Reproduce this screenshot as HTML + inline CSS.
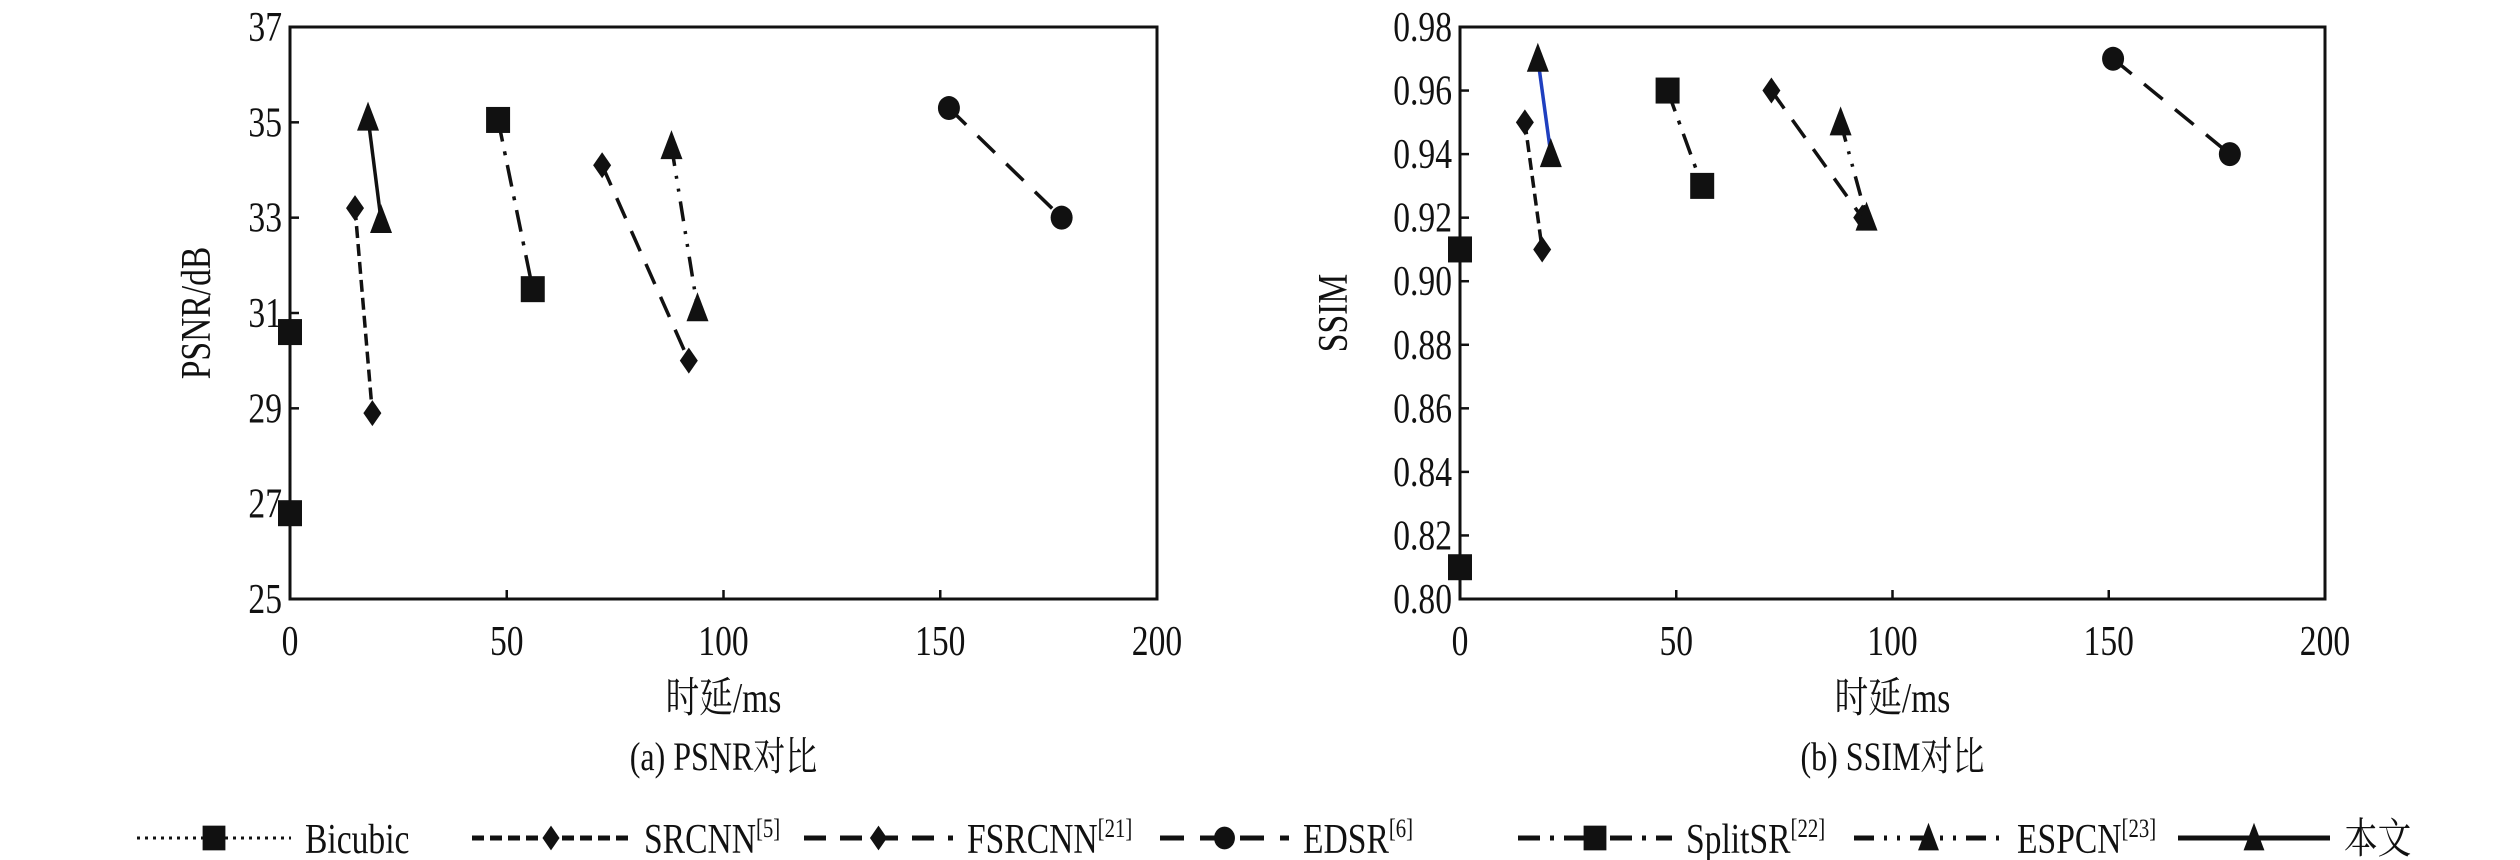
<!DOCTYPE html>
<html><head><meta charset="utf-8"><style>
body{margin:0;background:#fff}
svg{display:block}
text{font-family:"Liberation Serif","Noto Serif CJK SC","Noto Sans CJK SC",serif;fill:#111}
</style></head><body>
<svg id="svg" width="2520" height="860" viewBox="0 0 2520 860" xmlns="http://www.w3.org/2000/svg"></svg>
<script>
const seriesNames=["Bicubic","SRCNN","FSRCNN","EDSR","SplitSR","ESPCN","本文"];
const seriesX=[[0,0],[15,19],[72,92],[152,178],[48,56],[88,94],[18,21]];
const psnrY=[[30.6,26.8],[33.2,28.9],[34.1,30.0],[35.3,33.0],[35.05,31.5],[34.5,31.1],[35.1,32.95]];
const ssimX=[[0,0],[15,19],[72,93],[151,178],[48,56],[88,94],[18,21]];
const ssimY=[[0.91,0.81],[0.95,0.91],[0.96,0.92],[0.97,0.94],[0.96,0.93],[0.95,0.92],[0.97,0.94]];
const xTicks=[0,50,100,150,200];
const psnrTicks=[25,27,29,31,33,35,37];
const ssimTicks=[0.80,0.82,0.84,0.86,0.88,0.90,0.92,0.94,0.96,0.98];
const legendSup=["","[5]","[21]","[6]","[22]","[23]",""];
const markers=["square","diamond","diamond","circle","square","triangle","triangle"];
const dashes=["3,5","12,6","22,14","24,16","22,10,4,10","20,10,3,10,3,10",""];

const NS="http://www.w3.org/2000/svg";
const svg=document.getElementById('svg');
function el(tag,attrs,parent){const e=document.createElementNS(NS,tag);for(const k in attrs)e.setAttribute(k,attrs[k]);(parent||svg).appendChild(e);return e;}
function txt(x,y,size,anchor,parent,rot){
  const t=el('text',{x:0,y:0,'font-size':size,'text-anchor':anchor,transform:`translate(${x} ${y})${rot?' rotate(-90)':''} scale(0.8 1)`},parent);
  return t;
}
function marker(type,cx,cy,g,s){
  s=s||1;let m;
  if(type==="square")m=el('rect',{x:cx-12*s,y:cy-13*s,width:24*s,height:26*s,fill:'#111'},g);
  else if(type==="diamond")m=el('polygon',{points:`${cx},${cy-13*s} ${cx+9*s},${cy} ${cx},${cy+13*s} ${cx-9*s},${cy}`,fill:'#111'},g);
  else if(type==="circle")m=el('ellipse',{cx:cx,cy:cy,rx:11*s,ry:12*s,fill:'#111'},g);
  else m=el('polygon',{points:`${cx},${cy-16*s} ${cx+11*s},${cy+13*s} ${cx-11*s},${cy+13*s}`,fill:'#111'},g);
  return m;
}
function panel(id,L,R,T,B,xmax,ymin,ymax,yt,xs,ys,ylab,cap,fmt){
  const g=el('g',{});
  
  
  const sx=v=>L+(v/xmax)*(R-L), sy=v=>B-(v-ymin)/(ymax-ymin)*(B-T);
  const f=el('rect',{x:L,y:T,width:R-L,height:B-T,fill:'none',stroke:'#111','stroke-width':3},g);
  
  
  xTicks.forEach(t=>{
    el('line',{x1:sx(t),x2:sx(t),y1:B,y2:B-9,stroke:'#111','stroke-width':2.5},g);
    const tx=txt(sx(t),B+56,42,'middle',g);tx.textContent=t;
    
    
  });
  yt.forEach(t=>{
    el('line',{x1:L,x2:L+9,y1:sy(t),y2:sy(t),stroke:'#111','stroke-width':2.5},g);
    const tx=txt(L-8,sy(t)+14,42,'end',g);tx.textContent=fmt(t);
    
    
  });
  const xl=txt((L+R)/2,712,42,'middle',g);xl.textContent='时延/ms';
  
  
  const cp=txt((L+R)/2,770,40,'middle',g);cp.textContent=cap;
  
  
  const yx=L-(id==='psnr'?80:113), yy=(T+B)/2;
  const yl=txt(yx,yy,42,'middle',g,true);yl.textContent=ylab;
  
  
  seriesNames.forEach((n,i)=>{
    const sg=el('g',{},g);
    
    
    const col=(i===6&&id==='ssim')?'#1f3fbf':'#111';
    const ln=el('line',{x1:sx(xs[i][0]),y1:sy(ys[i][0]),x2:sx(xs[i][1]),y2:sy(ys[i][1]),stroke:col,'stroke-width':i===0?2.5:3.5,'stroke-dasharray':dashes[i]},sg);
    
    
    for(let k=0;k<2;k++){
      const m=marker(markers[i],sx(xs[i][k]),sy(ys[i][k]),sg);
      
      
    }
  });
}
panel('psnr',290,1157,27,599,200,25,37,psnrTicks,seriesX,psnrY,'PSNR/dB','(a) PSNR对比',t=>t);
panel('ssim',1460,2325,27,599,200,0.80,0.98,ssimTicks,ssimX,ssimY,'SSIM','(b) SSIM对比',t=>t.toFixed(2));

// legend
const legStart=[137,472,804,1160,1518,1854,2178];
const legEnd=[291,630,953,1289,1672,2003,2330];
const legG=el('g',{});


seriesNames.forEach((n,i)=>{
  const g=el('g',{},legG);
  
  
  const y=838,a=legStart[i],b=legEnd[i];
  el('line',{x1:a,x2:b,y1:y,y2:y,stroke:'#111','stroke-width':i===0?3:5,'stroke-dasharray':dashes[i]},g);
  marker(markers[i],(a+b)/2,y,g,0.95);
  const t=txt(b+14,y+15,42,'start',g);t.textContent=n;
  if(legendSup[i]){const s=el('tspan',{'font-size':26,dy:-16},t);s.textContent=legendSup[i];}
});
</script>
</body></html>
